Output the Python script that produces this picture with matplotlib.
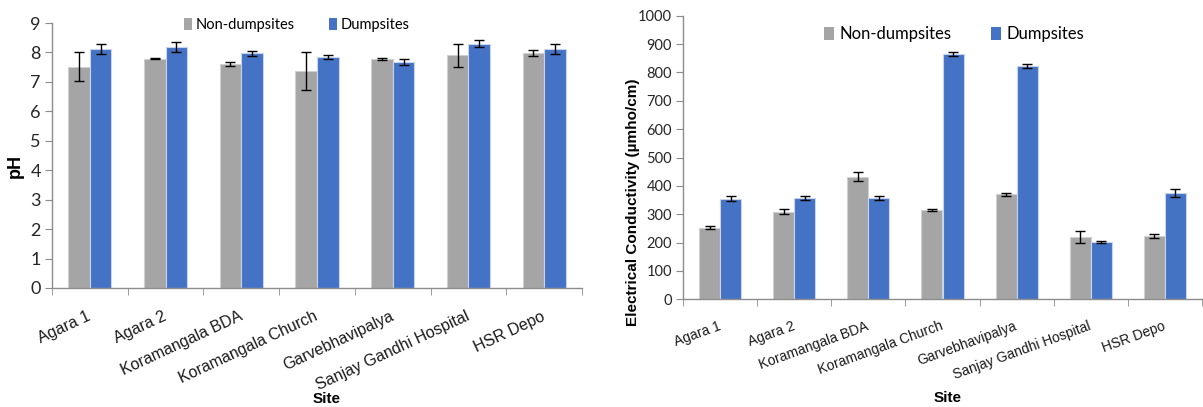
import numpy as np
import matplotlib
matplotlib.use('Agg')
import matplotlib.pyplot as plt
from matplotlib.patches import Patch

# data
sites = ['Agara 1', 'Agara 2', 'Koramangala BDA', 'Koramangala Church',
         'Garvebhavipalya', 'Sanjay Gandhi Hospital', 'HSR Depo']

ph_non = [7.52, 7.79, 7.61, 7.37, 7.78, 7.90, 7.97]
ph_non_err = [0.49, 0.01, 0.08, 0.66, 0.04, 0.38, 0.10]
ph_dump = [8.12, 8.20, 7.97, 7.85, 7.68, 8.30, 8.12]
ph_dump_err = [0.17, 0.17, 0.08, 0.06, 0.10, 0.13, 0.17]

ec_non = [253, 309, 433, 315, 371, 221, 222]
ec_non_err = [6, 8, 15, 5, 5, 21, 7]
ec_dump = [355, 357, 357, 866, 821, 201, 375]
ec_dump_err = [9, 8, 8, 7, 7, 4, 13]

GRAY = '#a5a5a5'
BLUE = '#4472c4'
AXC = '#8c8c8c'

fig = plt.figure(figsize=(12.03, 4.07), dpi=100)
ax1 = fig.add_axes([52/1203, 1-288/407, 530/1203, 265/407])
ax2 = fig.add_axes([683/1203, 1-299.3/407, 519/1203, 283.6/407])


def draw(ax, non, non_err, dump, dump_err, ymax, ystep, lab_size, rot, pad, tick_size):
    x = np.arange(len(sites))
    w = 0.285
    ekw = dict(ecolor='black', elinewidth=1, capsize=3.5, capthick=1)
    ax.bar(x - w/2, non, w, yerr=non_err, color=GRAY, edgecolor='#d0d0d0',
           linewidth=0.8, error_kw=ekw)
    ax.bar(x + w/2, dump, w, yerr=dump_err, color=BLUE, edgecolor='#c8d4ee',
           linewidth=0.8, error_kw=ekw)
    ax.set_xlim(-0.5, len(sites) - 0.5)
    ax.set_ylim(0, ymax)
    ax.set_yticks(np.arange(0, ymax + ystep/2, ystep))
    for s in ['top', 'right']:
        ax.spines[s].set_visible(False)
    for s in ['left', 'bottom']:
        ax.spines[s].set_color(AXC)
        ax.spines[s].set_linewidth(1)
    ax.tick_params(axis='y', length=5, color=AXC, labelsize=tick_size,
                   labelcolor='#262626', pad=3)
    for t in ax.get_yticklabels():
        t.set_fontfamily('Lato')
    ax.set_xticks(x)
    ax.set_xticklabels(sites, rotation=rot, ha='right', va='center',
                       rotation_mode='anchor', fontsize=lab_size,
                       family='Liberation Sans', color='#1a1a1a')
    ax.tick_params(axis='x', length=0, pad=pad)
    ax.set_xticks(np.arange(-0.5, len(sites) + 0.5, 1), minor=True)
    ax.tick_params(axis='x', which='minor', length=5, color=AXC)


draw(ax1, ph_non, ph_non_err, ph_dump, ph_dump_err, 9, 1, 11.5, 25, 20, 13)
draw(ax2, ec_non, ec_non_err, ec_dump, ec_dump_err, 1000, 100, 10, 20, 19, 10.5)

# axis titles
bold = dict(fontweight='bold', family='Liberation Sans', color='black')
fig.text(15/1203, 1-166/407, 'pH', rotation=90, ha='center', va='center',
         fontsize=13, **bold)
fig.text(327/1203, 1-399/407, 'Site', ha='center', va='center',
         fontsize=11, **bold)
fig.text(633/1203, 1-202/407, 'Electrical Conductivity (µmho/cm)', rotation=90,
         ha='center', va='center', fontsize=11, **bold)
fig.text(948/1203, 1-398/407, 'Site', ha='center', va='center',
         fontsize=11, **bold)

# legends
handles = [Patch(facecolor=GRAY, edgecolor='none'), Patch(facecolor=BLUE, edgecolor='none')]
names = ['Non-dumpsites', 'Dumpsites']
fig.legend(handles, names, loc='center left', bbox_to_anchor=(177/1203, 1-25/407),
           ncol=2, frameon=False, handlelength=0.55, handleheight=0.9,
           handletextpad=0.25, columnspacing=2.3, borderpad=0,
           prop={'family': 'Lato', 'size': 10.5})
fig.legend(handles, names, loc='center left', bbox_to_anchor=(816/1203, 1-34/407),
           ncol=2, frameon=False, handlelength=0.55, handleheight=0.8,
           handletextpad=0.35, columnspacing=2.4, borderpad=0,
           prop={'family': 'Lato', 'size': 12})

fig.savefig('out.png', dpi=100)
